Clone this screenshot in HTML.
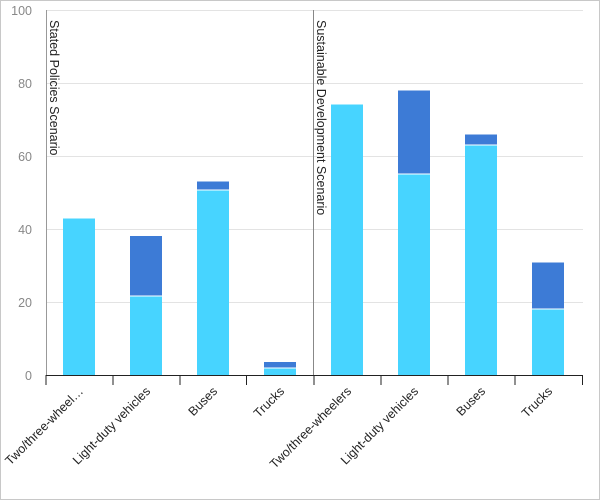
<!DOCTYPE html>
<html><head><style>body{margin:0;background:#fff}svg{display:block}</style></head><body>
<svg width="600" height="500" xmlns="http://www.w3.org/2000/svg" font-family="Liberation Sans, Arial, sans-serif">
<rect x="0.5" y="0.5" width="599" height="499" fill="#fff" stroke="#c8c8c8"/>
<g stroke="#e3e3e3" stroke-width="1">
<line x1="46" x2="583" y1="10.5" y2="10.5"/><line x1="46" x2="583" y1="83.5" y2="83.5"/><line x1="46" x2="583" y1="156.5" y2="156.5"/><line x1="46" x2="583" y1="229.5" y2="229.5"/><line x1="46" x2="583" y1="302.5" y2="302.5"/>
</g>
<g fill="#888" font-size="12.5" text-anchor="end">
<text x="32" y="15">100</text><text x="32" y="88">80</text><text x="32" y="161">60</text><text x="32" y="234">40</text><text x="32" y="307">20</text><text x="32" y="380">0</text>
</g>
<line x1="46.5" x2="46.5" y1="10" y2="376" stroke="#999"/>
<line x1="313.5" x2="313.5" y1="10" y2="376" stroke="#888"/>
<g fill="#47d4ff">
<rect x="63" y="218.5" width="32" height="156.5"/>
<rect x="130" y="296.5" width="32" height="78.5"/>
<rect x="197" y="190.5" width="32" height="184.5"/>
<rect x="264" y="368.5" width="32" height="6.5"/>
<rect x="331" y="104.5" width="32" height="270.5"/>
<rect x="398" y="174.5" width="32" height="200.5"/>
<rect x="465" y="145.5" width="32" height="229.5"/>
<rect x="532" y="309.5" width="32" height="65.5"/>
</g>
<g fill="#3d7bd6">
<rect x="130" y="236" width="32" height="59.5"/>
<rect x="197" y="181.5" width="32" height="8"/>
<rect x="264" y="362" width="32" height="5.5"/>
<rect x="398" y="90.5" width="32" height="83"/>
<rect x="465" y="134.5" width="32" height="10"/>
<rect x="532" y="262.5" width="32" height="46"/>
</g>
<line x1="46" x2="583" y1="375.5" y2="375.5" stroke="#222"/>
<g stroke="#222"><line x1="46" x2="46" y1="375" y2="385"/><line x1="113" x2="113" y1="375" y2="385"/><line x1="180" x2="180" y1="375" y2="385"/><line x1="246.5" x2="246.5" y1="375" y2="385"/><line x1="314" x2="314" y1="375" y2="385"/><line x1="381" x2="381" y1="375" y2="385"/><line x1="448" x2="448" y1="375" y2="385"/><line x1="515" x2="515" y1="375" y2="385"/><line x1="582.5" x2="582.5" y1="375" y2="385"/></g>
<g fill="#222" font-size="12.5" text-anchor="end">
<text transform="translate(84,392) rotate(-45)">Two/three-wheel…</text>
<text transform="translate(151,392) rotate(-45)">Light-duty vehicles</text>
<text transform="translate(218,392) rotate(-45)">Buses</text>
<text transform="translate(285,392) rotate(-45)">Trucks</text>
<text transform="translate(352,392) rotate(-45)">Two/three-wheelers</text>
<text transform="translate(419,392) rotate(-45)">Light-duty vehicles</text>
<text transform="translate(486,392) rotate(-45)">Buses</text>
<text transform="translate(553,392) rotate(-45)">Trucks</text>
</g>
<g fill="#222" font-size="12.5">
<text transform="translate(50,20) rotate(90)">Stated Policies Scenario</text>
<text transform="translate(317,20) rotate(90)">Sustainable Development Scenario</text>
</g>
</svg>
</body></html>
